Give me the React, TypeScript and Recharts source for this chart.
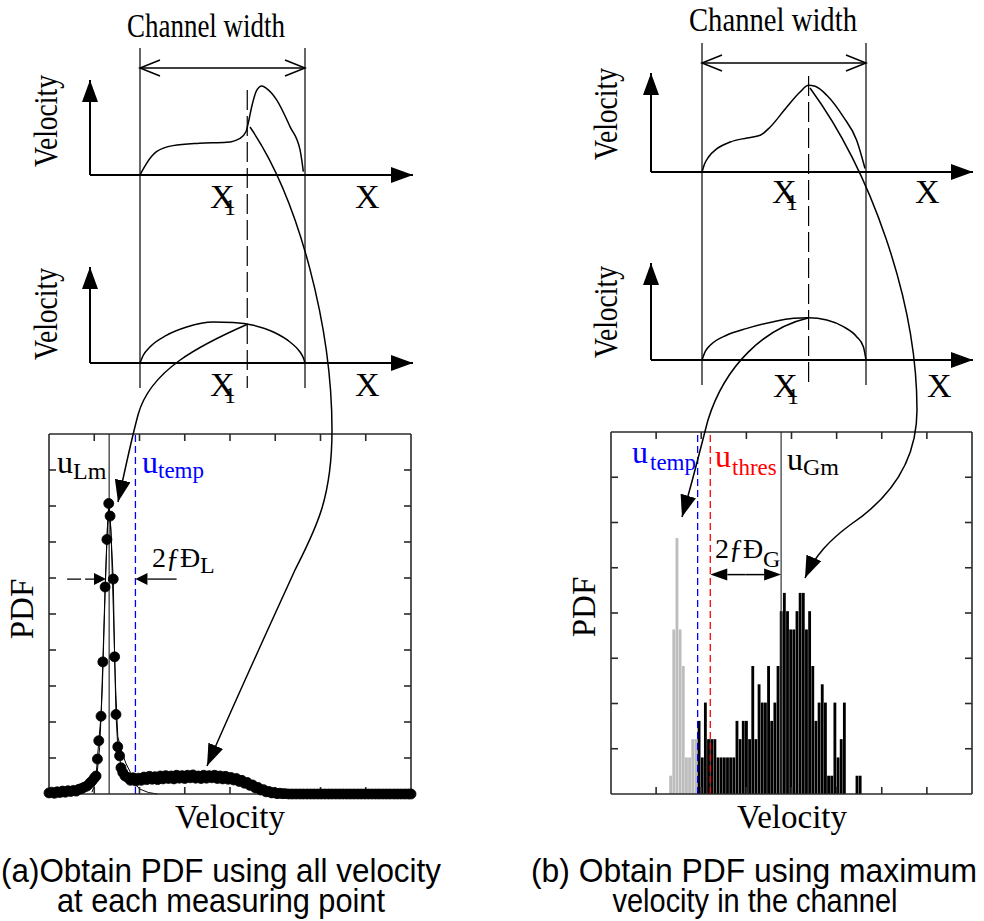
import React from 'react';
import {
  LineChart,
  ComposedChart,
  Line,
  Bar,
  XAxis,
  YAxis,
  ReferenceLine,
} from 'recharts';

const SERIF = '"Liberation Serif", "Times New Roman", serif';
const SANS = '"Liberation Sans", Arial, sans-serif';

// velocity profiles across the channel (0 = left wall, 1 = right wall)
const profileA1X = [0, 0.02, 0.04, 0.1, 0.2, 0.36, 0.525, 0.606, 0.642, 0.656, 0.677, 0.707, 0.738, 0.768, 0.828, 0.909, 0.97, 0.99];
const profileA1V = [0, 0.07, 0.135, 0.27, 0.34, 0.367, 0.378, 0.425, 0.5, 0.6, 0.79, 0.98, 1.03, 1.0, 0.87, 0.56, 0.29, 0.04];
const profileA2X = [0, 0.02, 0.06, 0.16, 0.283, 0.444, 0.565, 0.687, 0.808, 0.909, 0.97, 0.99, 1.0];
const profileA2V = [0, 0.09, 0.185, 0.32, 0.417, 0.475, 0.468, 0.436, 0.359, 0.243, 0.127, 0.06, 0];
const profileB1X = [0, 0.015, 0.04, 0.091, 0.172, 0.274, 0.355, 0.416, 0.517, 0.598, 0.649, 0.69, 0.761, 0.862, 0.943, 0.994];
const profileB1V = [0, 0.09, 0.174, 0.27, 0.347, 0.394, 0.425, 0.521, 0.752, 0.926, 1.003, 0.992, 0.888, 0.637, 0.367, 0.04];
const profileB2X = [0, 0.02, 0.05, 0.152, 0.274, 0.436, 0.558, 0.649, 0.761, 0.862, 0.943, 0.984, 1.0];
const profileB2V = [0, 0.1, 0.17, 0.289, 0.366, 0.443, 0.482, 0.49, 0.463, 0.386, 0.27, 0.154, 0];
const x1Position = 0.65;

// (a) PDF of all velocities
const pdfVel = [
  0, 0.06, 0.12, 0.18, 0.24, 0.3, 0.36, 0.42, 0.48, 0.54, 0.6, 0.66, 0.72, 0.78, 0.84, 0.9, 0.95, 1.0, 1.04,
  1.07, 1.1, 1.15, 1.19, 1.24, 1.28, 1.32, 1.35, 1.42, 1.45, 1.48, 1.52, 1.56, 1.59, 1.63,
  1.68, 1.74, 1.8, 1.86, 1.92, 1.98, 2.04, 2.1, 2.16, 2.22, 2.28, 2.34, 2.4, 2.46, 2.52,
  2.58, 2.64, 2.7, 2.76, 2.82, 2.88, 2.94, 3.0, 3.06, 3.12, 3.18, 3.24, 3.3, 3.36, 3.42,
  3.48, 3.54, 3.6, 3.66, 3.72, 3.78, 3.84, 3.9, 3.96, 4.02, 4.08, 4.14, 4.2, 4.26, 4.32,
  4.38, 4.44, 4.5, 4.56, 4.62, 4.68, 4.74, 4.8, 4.86, 4.92, 4.98, 5.04, 5.1, 5.16, 5.22,
  5.3, 5.38, 5.46, 5.54, 5.62, 5.7, 5.78, 5.86, 5.94, 6.02, 6.1, 6.18, 6.26, 6.34, 6.42,
  6.5, 6.58, 6.66, 6.74, 6.82, 6.9, 6.98, 7.06, 7.14, 7.22, 7.3, 7.38, 7.46, 7.54, 7.62,
  7.7, 7.78, 7.86, 7.94, 8.0,
];
const pdfVal = [
  0.03, 0.05, 0.02, 0.06, 0.04, 0.08, 0.05, 0.09, 0.07, 0.1, 0.08, 0.13, 0.15, 0.19, 0.22, 0.3, 0.36, 0.44, 0.5,
  0.97, 1.48, 2.16, 3.67, 5.75, 7.07, 8.07, 7.72, 5.97, 3.81, 2.21, 1.31, 1.06, 0.73, 0.6,
  0.5, 0.46, 0.38, 0.45, 0.36, 0.44, 0.38, 0.47, 0.4, 0.49, 0.41, 0.48, 0.4, 0.5, 0.42,
  0.51, 0.43, 0.5, 0.42, 0.52, 0.44, 0.51, 0.43, 0.52, 0.45, 0.53, 0.44, 0.5, 0.43, 0.52,
  0.44, 0.51, 0.45, 0.52, 0.43, 0.5, 0.42, 0.49, 0.41, 0.46, 0.39, 0.43, 0.35, 0.38, 0.3,
  0.32, 0.24, 0.25, 0.17, 0.18, 0.11, 0.12, 0.06, 0.07, 0.03, 0.04, 0.01, 0.02, 0.01, 0.01,
  0, 0, 0, 0, 0, 0, 0, 0, 0, 0, 0, 0, 0, 0, 0,
  0, 0, 0, 0, 0, 0, 0, 0, 0, 0, 0, 0, 0, 0, 0,
  0, 0, 0, 0, 0,
];
const fitVel = [0.95, 1.05, 1.12, 1.18, 1.24, 1.29, 1.33, 1.37, 1.42, 1.47, 1.52, 1.6, 1.7, 1.8, 1.9, 2.0, 2.2, 2.4];
const fitVal = [0.05, 0.4, 1.3, 3.0, 5.6, 7.4, 8.0, 7.3, 5.2, 3.0, 1.6, 1.2, 0.85, 0.6, 0.3, 0.14, 0.04, 0];
const uLmA = 1.33;
const uTempA = 1.91;
const halfMaxA = 5.97;

// (b) histogram of channel-maximum velocities
const histStart = 1.29;
const histWidth = 0.07;
const slowCounts = [1, 9, 14, 9, 7, 2, 2, 3, 3];
const fastCounts = [
  4, 2, 5, 3, 3, 3, 2, 2, 2, 2, 2, 2, 4, 3, 4, 4, 3, 7, 3, 6,
  5, 5, 7, 4, 5, 7, 10, 11, 10, 9, 9, 10, 11, 11, 9, 10, 7, 4, 5, 6,
  5, 1, 1, 5, 2, 3, 5, 0, 0, 0, 1, 1,
];
const uTempB = 1.92;
const uThresB = 2.2;
const uGmB = 3.77;
const sigmaLevelB = 12;

const pdfTicksX = [1, 2, 3, 4, 5, 6, 7];
const pdfTicksYA = [1, 2, 3, 4, 5, 6, 7, 8, 9];
const pdfTicksYB = [2.475, 4.95, 7.425, 9.9, 12.375, 14.85, 17.325];

const pdfDots = pdfVel.map((x, i) => ({ x, y: pdfVal[i] }));
const fitDots = fitVel.map((x, i) => ({ x, y: fitVal[i] }));
const histTable = [
  ...slowCounts.map((c, i) => ({ x: histStart + (i + 0.5) * histWidth, slow: c, fast: 0 })),
  ...fastCounts.map((c, i) => ({
    x: histStart + (slowCounts.length + i + 0.5) * histWidth,
    slow: 0,
    fast: c,
  })),
];

const PX_PER_V = 86.4;

type Panel = {
  axisX: number;
  right: number;
  wallL: number;
  wallR: number;
  wallTop: number;
  wallBottom: number;
  dashTop: number;
  spanY: number;
};

const panelA: Panel = { axisX: 90, right: 413, wallL: 140, wallR: 305, wallTop: 48, wallBottom: 388, dashTop: 90, spanY: 68 };
const panelB: Panel = { axisX: 651, right: 973, wallL: 702, wallR: 866, wallTop: 43, wallBottom: 385, dashTop: 76, spanY: 63 };

const Profile = (props: { id: string; p: Panel; topY: number; baseY: number; xs: number[]; vs: number[] }) => {
  const { id, p, topY, baseY, xs, vs } = props;
  const pad = 12;
  const w = p.right - p.axisX;
  const h = baseY - topY;
  const span = p.wallR - p.wallL;
  const data = xs.map((x, i) => ({ x, v: vs[i] }));
  return (
    <div style={{ position: 'absolute', left: p.axisX - pad, top: topY - pad }}>
      <LineChart
        width={w + 2 * pad}
        height={h + 2 * pad}
        data={data}
        margin={{ top: pad, right: pad, bottom: pad - 1, left: pad - 1 }}
      >
        <defs>
          <marker
            id={id}
            markerUnits="userSpaceOnUse"
            markerWidth={22}
            markerHeight={16}
            refX={22}
            refY={8}
            orient="auto-start-reverse"
          >
            <path d="M0,0 L22,8 L0,16 Z" fill="#000" />
          </marker>
        </defs>
        <XAxis
          type="number"
          dataKey="x"
          domain={[(p.axisX - p.wallL) / span, (p.right - p.wallL) / span]}
          allowDataOverflow
          height={1}
          tick={false}
          tickLine={false}
          axisLine={{ stroke: '#000', strokeWidth: 2, markerEnd: `url(#${id})` }}
        />
        <YAxis
          type="number"
          domain={[0, h / PX_PER_V]}
          allowDataOverflow
          width={1}
          tick={false}
          tickLine={false}
          axisLine={{ stroke: '#000', strokeWidth: 2, markerStart: `url(#${id})` }}
        />
        <Line type="monotone" dataKey="v" stroke="#000" strokeWidth={1.5} dot={false} isAnimationActive={false} />
      </LineChart>
    </div>
  );
};

const noTick = () => <g />;
const frame = { stroke: '#2a2a2a', strokeWidth: 1.6 };

const arrowLine = (len: number, half: number) => (props: any) => {
  const { x1, y1, x2, y2, stroke, strokeWidth, strokeDasharray } = props;
  const ang = Math.atan2(y2 - y1, x2 - x1);
  const c = Math.cos(ang);
  const s = Math.sin(ang);
  const bx = x2 - len * c;
  const by = y2 - len * s;
  const pts = `${x2},${y2} ${bx - half * s},${by + half * c} ${bx + half * s},${by - half * c}`;
  return (
    <g>
      <line x1={x1} y1={y1} x2={bx} y2={by} stroke={stroke} strokeWidth={strokeWidth} strokeDasharray={strokeDasharray} />
      <polygon points={pts} fill={stroke} />
    </g>
  );
};

const PdfAxes = (yDomain: number[], yTicks: number[]) => [
  <XAxis key="xb" xAxisId="b" type="number" dataKey="x" domain={[0, 8]} ticks={pdfTicksX} interval={0} orientation="bottom" mirror height={1} tickSize={7} tick={noTick} axisLine={frame} tickLine={frame} />,
  <XAxis key="xt" xAxisId="t" type="number" dataKey="x" domain={[0, 8]} ticks={pdfTicksX} interval={0} orientation="top" mirror height={1} tickSize={7} tick={noTick} axisLine={frame} tickLine={frame} allowDataOverflow />,
  <YAxis key="yl" yAxisId="l" type="number" domain={yDomain} ticks={yTicks} interval={0} orientation="left" mirror width={1} tickSize={7} tick={noTick} axisLine={frame} tickLine={frame} />,
  <YAxis key="yr" yAxisId="r" type="number" domain={yDomain} ticks={yTicks} interval={0} orientation="right" mirror width={1} tickSize={7} tick={noTick} axisLine={frame} tickLine={frame} allowDataOverflow />,
];

const PdfAll = () => {
  const pad = 10;
  return (
    <div style={{ position: 'absolute', left: 50 - pad, top: 435 - pad }}>
      <ComposedChart width={360 + 2 * pad} height={358 + 2 * pad} margin={{ top: pad - 1, right: pad - 1, bottom: pad - 1, left: pad - 1 }}>
        {PdfAxes([0, 10], pdfTicksYA)}
        <ReferenceLine xAxisId="b" yAxisId="l" x={uLmA} stroke="#555" strokeWidth={1.5} />
        <ReferenceLine xAxisId="b" yAxisId="l" x={uTempA} stroke="#0000ff" strokeWidth={1.3} strokeDasharray="7 4" />
        <Line xAxisId="b" yAxisId="l" data={fitDots} dataKey="y" type="linear" stroke="#000" strokeWidth={1} dot={false} isAnimationActive={false} />
        <Line
          xAxisId="b"
          yAxisId="l"
          data={pdfDots}
          dataKey="y"
          type="linear"
          stroke="#000"
          strokeWidth={1}
          dot={{ r: 5, fill: '#000', stroke: '#000', strokeWidth: 0.8 }}
          isAnimationActive={false}
        />
        <ReferenceLine
          xAxisId="b"
          yAxisId="l"
          segment={[{ x: 0.4, y: halfMaxA }, { x: 1.26, y: halfMaxA }]}
          stroke="#000"
          strokeWidth={1.3}
          strokeDasharray="14 4"
          shape={arrowLine(12, 6)}
        />
        <ReferenceLine
          xAxisId="b"
          yAxisId="l"
          segment={[{ x: 2.82, y: halfMaxA }, { x: uTempA, y: halfMaxA }]}
          stroke="#000"
          strokeWidth={1.3}
          shape={arrowLine(12, 6)}
        />
      </ComposedChart>
    </div>
  );
};

const PdfMax = () => {
  const pad = 10;
  const mid = (uThresB + uGmB) / 2;
  return (
    <div style={{ position: 'absolute', left: 612 - pad, top: 433 - pad }}>
      <ComposedChart
        width={359 + 2 * pad}
        height={360 + 2 * pad}
        data={histTable}
        barGap={0}
        barCategoryGap={0}
        margin={{ top: pad - 1, right: pad - 1, bottom: pad - 1, left: pad - 1 }}
      >
        {PdfAxes([0, 19.8], pdfTicksYB)}
        <Bar xAxisId="b" yAxisId="l" dataKey="slow" stackId="h" fill="#bdbdbd" barSize={3.4} isAnimationActive={false} />
        <Bar xAxisId="b" yAxisId="l" dataKey="fast" stackId="h" fill="#000" barSize={3.4} isAnimationActive={false} />
        <ReferenceLine xAxisId="b" yAxisId="l" x={uGmB} stroke="#333" strokeWidth={1.2} />
        <ReferenceLine xAxisId="b" yAxisId="l" x={uTempB} stroke="#0000ff" strokeWidth={1.3} strokeDasharray="7 4" />
        <ReferenceLine xAxisId="b" yAxisId="l" x={uThresB} stroke="#ff0000" strokeWidth={1.3} strokeDasharray="7 4" />
        <ReferenceLine
          xAxisId="b"
          yAxisId="l"
          segment={[{ x: mid, y: sigmaLevelB }, { x: uThresB, y: sigmaLevelB }]}
          stroke="#000"
          strokeWidth={1.5}
          shape={arrowLine(17, 6)}
        />
        <ReferenceLine
          xAxisId="b"
          yAxisId="l"
          segment={[{ x: mid, y: sigmaLevelB }, { x: uGmB, y: sigmaLevelB }]}
          stroke="#000"
          strokeWidth={1.5}
          shape={arrowLine(17, 6)}
        />
      </ComposedChart>
    </div>
  );
};

const Txt = (props: {
  x: number;
  y: number;
  size: number;
  children: React.ReactNode;
  fill?: string;
  anchor?: string;
  rotate?: boolean;
  font?: string;
  fit?: number;
}) => {
  const { x, y, size, children, fill = '#000', anchor = 'start', rotate = false, font = SERIF, fit } = props;
  return (
    <text
      x={rotate ? 0 : x}
      y={rotate ? 0 : y}
      transform={rotate ? `translate(${x},${y}) rotate(-90)` : undefined}
      fontFamily={font}
      fontSize={size}
      fill={fill}
      textAnchor={anchor as any}
      textLength={fit}
      lengthAdjust={fit ? 'spacingAndGlyphs' : undefined}
    >
      {children}
    </text>
  );
};

const Schematic = (props: {
  p: Panel;
  title: [number, number, number];
  vel: [number, number, number];
  xTop: [number, number, number];
  xBot: [number, number, number];
}) => {
  const { p, title, vel, xTop, xBot } = props;
  const x1 = p.wallL + x1Position * (p.wallR - p.wallL);
  const head = 20;
  const hw = 8;
  return (
    <g>
      <line x1={p.wallL} y1={p.wallTop} x2={p.wallL} y2={p.wallBottom} stroke="#000" strokeWidth={1.2} />
      <line x1={p.wallR} y1={p.wallTop} x2={p.wallR} y2={p.wallBottom} stroke="#000" strokeWidth={1.2} />
      <line x1={x1} y1={p.dashTop} x2={x1} y2={p.wallBottom} stroke="#000" strokeWidth={1.2} strokeDasharray="20 6" />
      <line x1={p.wallL} y1={p.spanY} x2={p.wallR} y2={p.spanY} stroke="#000" strokeWidth={1.5} />
      <polyline points={`${p.wallL + head},${p.spanY - hw} ${p.wallL},${p.spanY} ${p.wallL + head},${p.spanY + hw}`} fill="none" stroke="#000" strokeWidth={1.5} />
      <polyline points={`${p.wallR - head},${p.spanY - hw} ${p.wallR},${p.spanY} ${p.wallR - head},${p.spanY + hw}`} fill="none" stroke="#000" strokeWidth={1.5} />
      <Txt x={title[0]} y={title[1]} size={34} anchor="middle" fit={title[2]}>Channel width</Txt>
      <Txt x={vel[0]} y={vel[1]} size={33} anchor="middle" rotate fit={92}>Velocity</Txt>
      <Txt x={vel[0]} y={vel[2]} size={33} anchor="middle" rotate fit={92}>Velocity</Txt>
      <Txt x={xTop[0]} y={xTop[2]} size={34}>X</Txt>
      <Txt x={xTop[0] + 14} y={xTop[2] + 7} size={24}>1</Txt>
      <Txt x={xTop[1]} y={xTop[2]} size={34}>X</Txt>
      <Txt x={xBot[0]} y={xBot[2]} size={34}>X</Txt>
      <Txt x={xBot[0] + 14} y={xBot[2] + 7} size={24}>1</Txt>
      <Txt x={xBot[1]} y={xBot[2]} size={34}>X</Txt>
    </g>
  );
};

export default function App() {
  return (
    <div style={{ position: 'absolute', left: 0, top: 0, width: 984, height: 921, background: '#fff', overflow: 'hidden' }}>
      <Profile id="axA1" p={panelA} topY={80} baseY={175} xs={profileA1X} vs={profileA1V} />
      <Profile id="axA2" p={panelA} topY={267} baseY={363} xs={profileA2X} vs={profileA2V} />
      <Profile id="axB1" p={panelB} topY={73} baseY={172} xs={profileB1X} vs={profileB1V} />
      <Profile id="axB2" p={panelB} topY={263} baseY={360} xs={profileB2X} vs={profileB2V} />
      <PdfAll />
      <PdfMax />
      <svg width={984} height={921} style={{ position: 'absolute', left: 0, top: 0, pointerEvents: 'none' }}>
        <defs>
          <marker id="curveHead" markerUnits="userSpaceOnUse" markerWidth={22} markerHeight={16} refX={22} refY={8} orient="auto">
            <path d="M0,0 L22,8 L0,16 Z" fill="#000" />
          </marker>
        </defs>
        <Schematic p={panelA} title={[206, 37, 158]} vel={[57, 121, 314]} xTop={[210, 355, 208]} xBot={[210, 355, 396]} />
        <Schematic p={panelB} title={[773, 31, 168]} vel={[617, 114, 312]} xTop={[772, 915, 203]} xBot={[773, 927, 397]} />

        {/* curved arrows from profiles to PDFs */}
        <g fill="none" stroke="#000" strokeWidth={1.5} markerEnd="url(#curveHead)">
          <path d="M250,127 C300,200 332,330 332,430 C332,500 315,530 295,570 C270,625 240,690 207,766" />
          <path d="M248,324 C200,345 150,370 138,415 C130,445 125,470 118,502" />
          <path d="M810,88 C870,170 917,300 917,410 C917,470 880,505 850,525 C830,540 815,555 805,578" />
          <path d="M808,318 C765,328 725,365 708,420 C700,450 693,480 682,517" />
        </g>

        {/* (a) labels */}
        <Txt x={57} y={473} size={32}>u</Txt>
        <Txt x={73} y={479} size={24}>Lm</Txt>
        <Txt x={142} y={473} size={32} fill="#0000ff">u</Txt>
        <Txt x={158} y={478} size={23} fill="#0000ff">temp</Txt>
        <Txt x={152} y={567} size={28}>2ƒÐ</Txt>
        <Txt x={200} y={573} size={24}>L</Txt>
        <Txt x={230} y={828} size={33} anchor="middle">Velocity</Txt>
        <Txt x={33} y={609} size={33} anchor="middle" rotate>PDF</Txt>

        {/* (b) labels */}
        <Txt x={632} y={463} size={32} fill="#0000ff">u</Txt>
        <Txt x={650} y={470} size={23} fill="#0000ff">temp</Txt>
        <Txt x={715} y={467} size={32} fill="#ff0000">u</Txt>
        <Txt x={732} y={475} size={23} fill="#ff0000">thres</Txt>
        <Txt x={787} y={470} size={32}>u</Txt>
        <Txt x={803} y={475} size={24}>Gm</Txt>
        <Txt x={715} y={558} size={28}>2ƒÐ</Txt>
        <Txt x={763} y={567} size={24}>G</Txt>
        <Txt x={792} y={828} size={33} anchor="middle">Velocity</Txt>
        <Txt x={595} y={607} size={33} anchor="middle" rotate>PDF</Txt>

        {/* captions */}
        <Txt x={221} y={882} size={34} anchor="middle" font={SANS} fit={440}>(a)Obtain PDF using all velocity</Txt>
        <Txt x={221} y={912} size={34} anchor="middle" font={SANS} fit={328}>at each measuring point</Txt>
        <Txt x={754} y={882} size={34} anchor="middle" font={SANS} fit={446}>(b) Obtain PDF using maximum</Txt>
        <Txt x={755} y={912} size={34} anchor="middle" font={SANS} fit={285}>velocity in the channel</Txt>
      </svg>
    </div>
  );
}
